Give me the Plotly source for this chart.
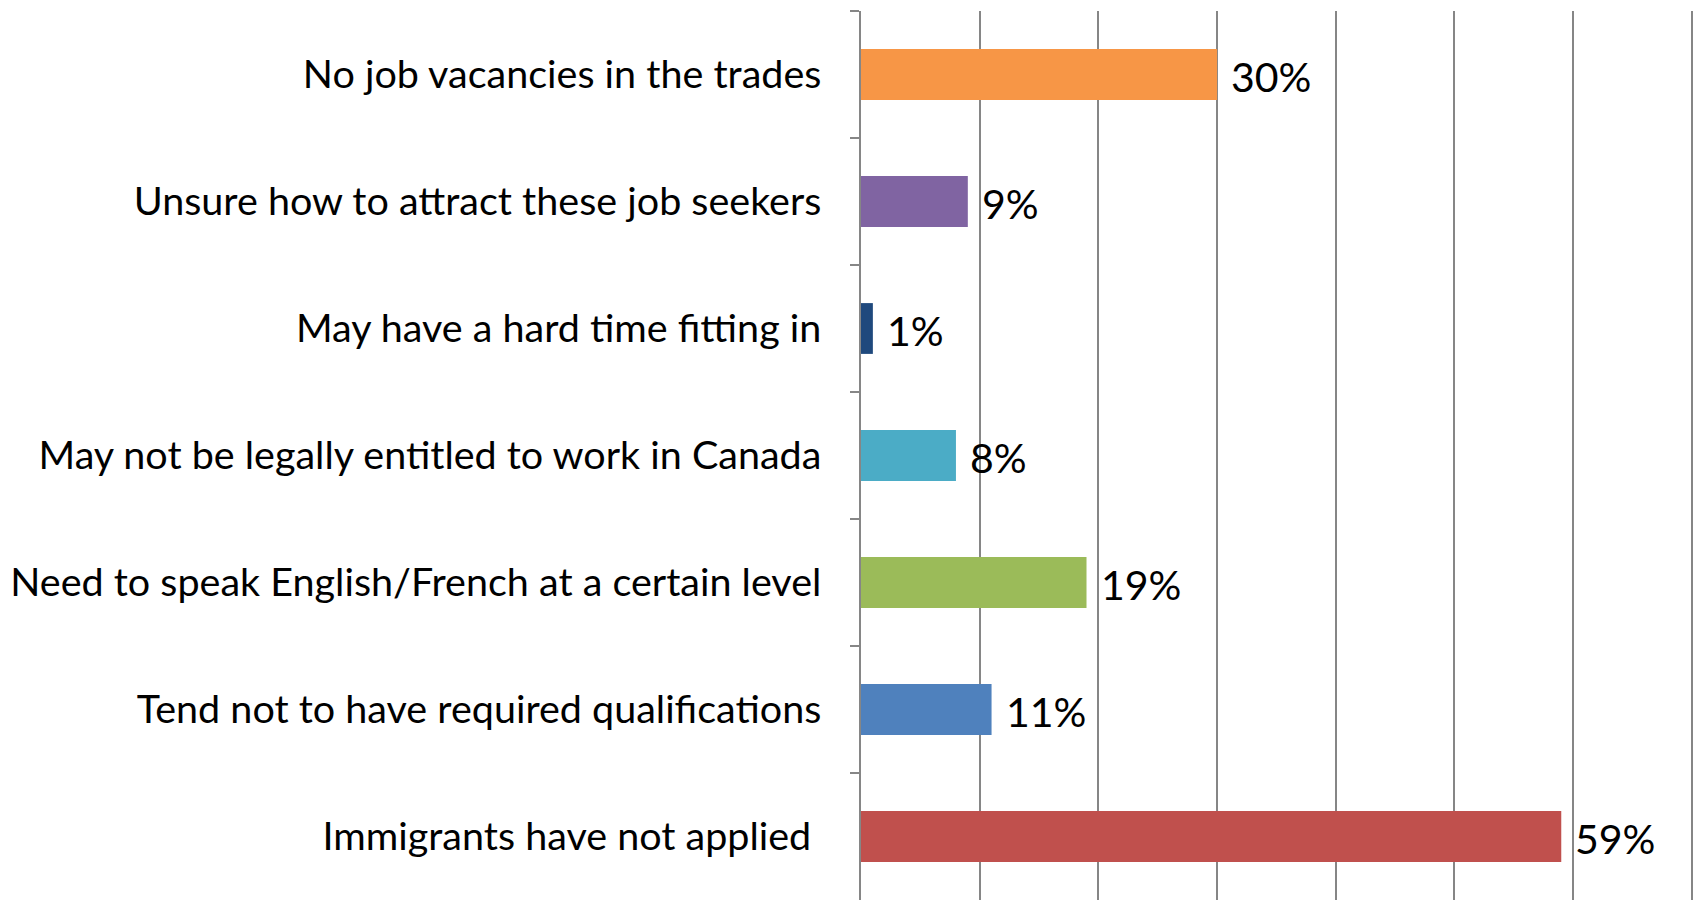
import plotly.graph_objects as go

categories = [
    "No job vacancies in the trades",
    "Unsure how to attract these job seekers",
    "May have a hard time fitting in",
    "May not be legally entitled to work in Canada",
    "Need to speak English/French at a certain level",
    "Tend not to have required qualifications",
    "Immigrants have not applied\u00a0",
]
values = [30, 9, 1, 8, 19, 11, 59]
colors = ["#F79646", "#8064A2", "#1F497D", "#4BACC6", "#9BBB59", "#4F81BD", "#C0504D"]
x_ticks = [0, 10, 20, 30, 40, 50, 60, 70]

FONT = "Lato"
FS = 39.5

fig = go.Figure()
fig.add_trace(go.Bar(
    y=categories, x=values, orientation="h",
    marker=dict(color=colors, line=dict(width=0)),
    hoverinfo="skip",
))

for c, v in zip(categories, values):
    fig.add_annotation(
        x=v, y=c, text=f"{v}%", showarrow=False,
        xanchor="left", yanchor="middle", xshift=12, yshift=-2,
        font=dict(family=FONT, size=41, color="#000000"),
    )

fig.update_layout(
    width=1694, height=904,
    margin=dict(l=861, r=1, t=11, b=4),
    paper_bgcolor="white", plot_bgcolor="white",
    bargap=0.6, showlegend=False,
    font=dict(family=FONT, size=FS, color="#000000"),
)
fig.update_xaxes(
    range=[0, 70.1], tickvals=x_ticks, showticklabels=False,
    showgrid=True, gridcolor="#868686", gridwidth=1.5,
    zeroline=False, showline=False, ticks="", automargin=False,
)
fig.update_yaxes(
    categoryorder="array", categoryarray=categories, autorange="reversed",
    showline=True, linecolor="#868686", linewidth=1.5,
    ticks="outside", tickson="boundaries", ticklen=9, tickcolor="#868686", tickwidth=1.5,
    showgrid=False, ticklabelstandoff=30, automargin=False,
    tickfont=dict(family=FONT, size=FS, color="#000000"),
)

fig.write_html(
    "out.html",
    config={"displayModeBar": False},
    post_script="document.body.style.margin='0';document.body.style.overflow='hidden';",
)
